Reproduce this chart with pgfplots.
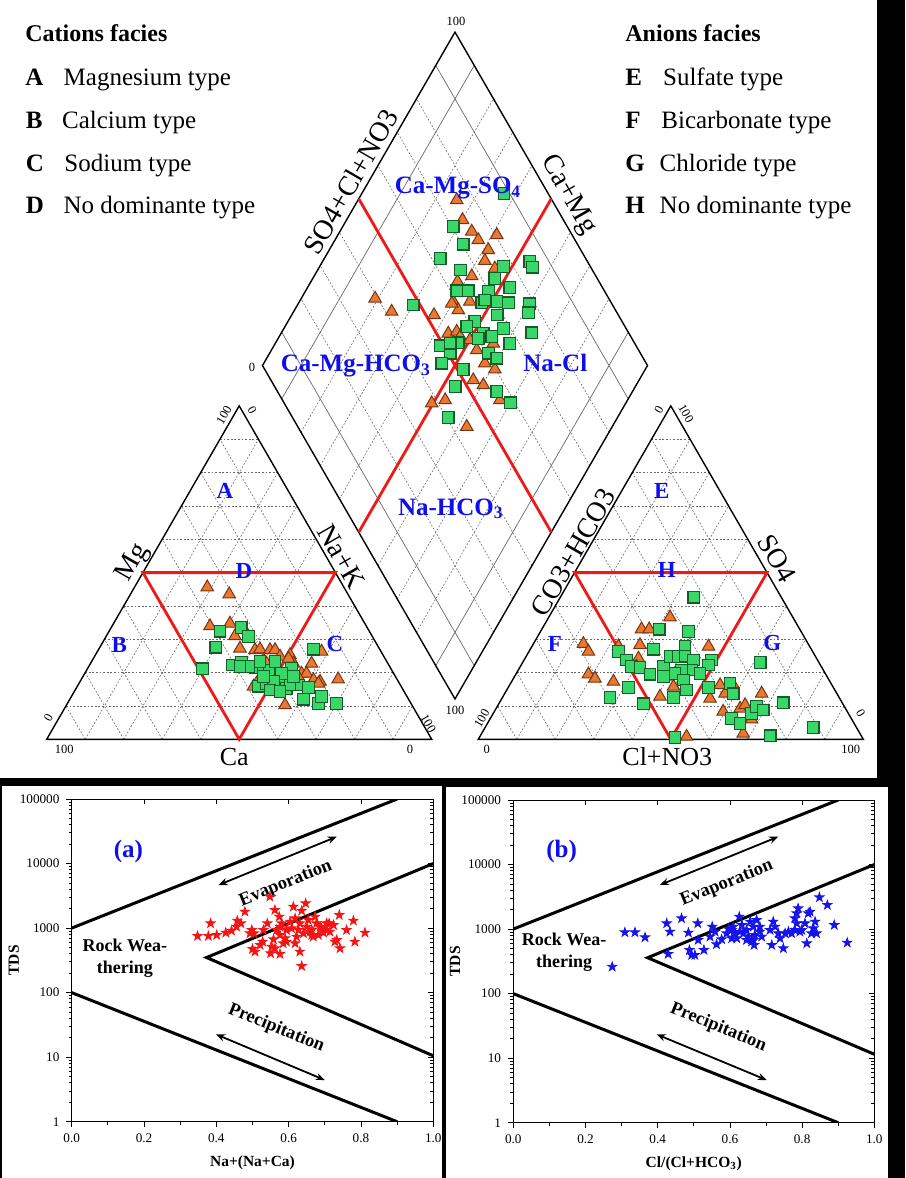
\documentclass[border=0pt]{standalone}
\usepackage{fontspec}
\setmainfont{Liberation Serif}
\usepackage{pgfplots}
\pgfplotsset{compat=1.18}
\usetikzlibrary{arrows.meta}

\definecolor{triorange}{RGB}{233,120,52}
\definecolor{triedge}{RGB}{120,52,14}
\definecolor{sqgreen}{RGB}{55,215,105}
\definecolor{sqedge}{RGB}{22,92,38}
\definecolor{facred}{RGB}{238,25,25}
\definecolor{facblue}{RGB}{15,15,235}
\definecolor{gridgray}{RGB}{105,105,105}
\definecolor{starred}{RGB}{245,20,20}
\definecolor{starblue}{RGB}{20,20,235}

% filled five-pointed star
\pgfdeclareplotmark{fstar}{%
  \pgfpathmoveto{\pgfpointpolar{90}{\pgfplotmarksize}}%
  \pgfpathlineto{\pgfpointpolar{126}{0.382\pgfplotmarksize}}%
  \pgfpathlineto{\pgfpointpolar{162}{\pgfplotmarksize}}%
  \pgfpathlineto{\pgfpointpolar{198}{0.382\pgfplotmarksize}}%
  \pgfpathlineto{\pgfpointpolar{234}{\pgfplotmarksize}}%
  \pgfpathlineto{\pgfpointpolar{270}{0.382\pgfplotmarksize}}%
  \pgfpathlineto{\pgfpointpolar{306}{\pgfplotmarksize}}%
  \pgfpathlineto{\pgfpointpolar{342}{0.382\pgfplotmarksize}}%
  \pgfpathlineto{\pgfpointpolar{18}{\pgfplotmarksize}}%
  \pgfpathlineto{\pgfpointpolar{54}{0.382\pgfplotmarksize}}%
  \pgfpathclose
  \pgfusepathqfillstroke
}

\pgfplotsset{
  groupone/.style={only marks, mark=triangle*, mark size=3.6pt,
    mark options={fill=triorange, draw=triedge, line width=0.5pt}},
  grouptwo/.style={only marks, mark=square*, mark size=2.9pt,
    mark options={fill=sqgreen, draw=sqedge, line width=0.6pt}},
  faciesline/.style={facred, line width=1.4pt, line join=miter},
  boundary/.style={black, line width=1.5pt, line join=miter},
  trend/.style={black, line width=0.9pt, {Stealth[length=4.5pt,width=3.6pt]}-{Stealth[length=4.5pt,width=3.6pt]}},
}
\tikzset{
  regiontext/.style={font=\bfseries\fontsize{9.2}{11}\selectfont, inner sep=0pt},
  tgrid/.style={gridgray, line width=0.3pt, dash pattern=on 0.9pt off 0.9pt},
  innertick/.style={black, line width=0.4pt},
}
% inward ticks on the top and right frame of a Gibbs panel
\newcommand{\mirrorticks}{%
  \pgfplotsinvokeforeach{0.2,0.4,0.6,0.8}{\draw[innertick] (axis cs:##1,100000) -- ++(0pt,-2.6pt);}%
  \pgfplotsinvokeforeach{10,100,1000,10000}{\draw[innertick] (axis cs:1,##1) -- ++(-2.6pt,0pt);}%
  \pgfplotsinvokeforeach{2,3,4,5,6,7,8,9,20,30,40,50,60,70,80,90,200,300,400,500,600,700,800,900,2000,3000,4000,5000,6000,7000,8000,9000,20000,30000,40000,50000,60000,70000,80000,90000}{\draw[innertick] (axis cs:1,##1) -- ++(-1.5pt,0pt);}%
}

\begin{document}
\begin{tikzpicture}
\useasboundingbox (0,0) rectangle (452.5pt,-589pt);

% ---------- panels and facies key (pixel grid) ----------
\begin{scope}[x=0.5pt,y=-0.5pt]
  \fill[black] (0,0) rectangle (905,1178);
  \fill[white] (0,0) rectangle (877,778);
  \fill[white] (2,786) rectangle (442,1178);
  \fill[white] (446,787) rectangle (888,1178);

  \begin{scope}[every node/.style={inner sep=0pt, anchor=base west}]
    \node[font=\bfseries\fontsize{12}{14}\selectfont] at (25,41.5) {Cations facies};
    \node[font=\bfseries\fontsize{12.5}{14}\selectfont] at (25,85) {A};
    \node[font=\fontsize{12.5}{14}\selectfont] at (63.3,85) {Magnesium type};
    \node[font=\bfseries\fontsize{12.5}{14}\selectfont] at (25.5,128.3) {B};
    \node[font=\fontsize{12.5}{14}\selectfont] at (61.7,128.3) {Calcium type};
    \node[font=\bfseries\fontsize{12.5}{14}\selectfont] at (25.5,171.7) {C};
    \node[font=\fontsize{12.5}{14}\selectfont] at (64,171.7) {Sodium type};
    \node[font=\bfseries\fontsize{12.5}{14}\selectfont] at (25.5,213.3) {D};
    \node[font=\fontsize{12.5}{14}\selectfont] at (63.3,213.3) {No dominante type};

    \node[font=\bfseries\fontsize{12}{14}\selectfont] at (625,41.5) {Anions facies};
    \node[font=\bfseries\fontsize{12.5}{14}\selectfont] at (625,85) {E};
    \node[font=\fontsize{12.5}{14}\selectfont] at (662.7,85) {Sulfate type};
    \node[font=\bfseries\fontsize{12.5}{14}\selectfont] at (625,128.3) {F};
    \node[font=\fontsize{12.5}{14}\selectfont] at (661,128.3) {Bicarbonate type};
    \node[font=\bfseries\fontsize{12.5}{14}\selectfont] at (625,171.7) {G};
    \node[font=\fontsize{12.5}{14}\selectfont] at (659.3,171.7) {Chloride type};
    \node[font=\bfseries\fontsize{12.5}{14}\selectfont] at (625,213.3) {H};
    \node[font=\fontsize{12.5}{14}\selectfont] at (659.3,213.3) {No dominante type};
  \end{scope}
\end{scope}

% ---------- Piper frames and grids (units: triangle side = 100) ----------
\begin{scope}[shift={(23.35pt,-369.65pt)}, x=1.925pt, y=1.925pt]
  \foreach \sx in {0,112.1} {
    \begin{scope}[xshift=\sx*1.925pt]
      \foreach \k in {1,...,9} {
        \draw[tgrid] ({5*\k},{8.66*\k}) -- ({100-5*\k},{8.66*\k});
        \draw[tgrid] ({10*\k},0) -- ({10*\k+0.5*(100-10*\k)},{0.866*(100-10*\k)});
        \draw[tgrid] ({10*\k},0) -- ({5*\k},{8.66*\k});
      }
      \draw[black, line width=0.7pt, line join=miter] (0,0) -- (100,0) -- (50,86.6) -- cycle;
    \end{scope}
  }
  \begin{scope}[shift={(106.05,10.48)}]
    \foreach \k in {2,...,8} {
      \draw[tgrid] ({-5*\k},{8.66*\k}) -- ({50-5*\k},{86.6+8.66*\k});
      \draw[tgrid] ({5*\k},{8.66*\k}) -- ({-50+5*\k},{86.6+8.66*\k});
    }
    \foreach \k in {1,9} {
      \draw[gridgray, line width=0.35pt] ({-5*\k},{8.66*\k}) -- ({50-5*\k},{86.6+8.66*\k});
      \draw[gridgray, line width=0.35pt] ({5*\k},{8.66*\k}) -- ({-50+5*\k},{86.6+8.66*\k});
    }
    \draw[black, line width=0.7pt, line join=miter] (0,0) -- (50,86.6) -- (0,173.2) -- (-50,86.6) -- cycle;
  \end{scope}
\end{scope}

% ---------- Piper sample points ----------
\begin{axis}[
  at={(23.35pt,-369.65pt)}, anchor=south west,
  x=1.925pt, y=1.925pt,
  xmin=0, xmax=212.1, ymin=0, ymax=183.7,
  hide axis, clip=false, enlargelimits=false,
]
% facies boundaries
\addplot[faciesline] coordinates {(25,43.3) (75,43.3) (50,0) (25,43.3) (75,43.3)};
\addplot[faciesline] coordinates {(137.1,43.3) (187.1,43.3) (162.1,0) (137.1,43.3) (187.1,43.3)};
\addplot[faciesline] coordinates {(81.05,140.4) (131.05,53.8)};
\addplot[faciesline] coordinates {(81.05,53.8) (131.05,140.4)};

% cation triangle
\addplot[groupone] coordinates {
 (41.7,39.5) (47.4,37.7) (42.4,29.4) (47.6,30.1) (48.9,26.8) (50.2,23.6)
 (54.1,23.2) (55.4,23.4) (58.0,23.2) (59.3,23.2) (63.2,21.9) (56.3,20.6)
 (68.8,19.7) (71.4,22.8) (75.7,15.6) (61.9,8.9) (66.2,17.1) (67.5,17.1)
 (71.0,15.0) (69.3,15.4) (65.8,15.4) (54.5,14.5) (53.7,13.7) (60.6,21.5)
 (57.1,19.7) (52.4,26.7) (64.1,19.7) (62.8,21.0) (70.6,14.5)};
\addplot[grouptwo] coordinates {
 (45.0,28.1) (50.5,29.0) (52.4,26.7) (43.9,23.9) (40.5,18.3) (48.3,19.3)
 (50.6,19.9) (54.1,18.7) (56.3,18.0) (57.8,18.0) (59.3,20.2) (63.6,18.4)
 (55.0,13.8) (57.1,14.5) (60.6,14.5) (62.2,13.2) (65.4,14.1) (68.0,13.5)
 (69.3,23.4) (66.7,10.4) (70.6,9.3) (71.4,11.1) (75.3,9.3) (55.4,20.2)
 (61.0,17.1) (63.2,14.1) (58.9,15.0) (56.3,16.3) (52.4,18.9) (50.2,18.9)
 (58.0,12.8) (60.6,12.4) (64.1,16.3)};

% anion triangle
\addplot[groupone] coordinates {
 (139.4,24.8) (140.7,22.8) (140.7,16.9) (142.4,15.8) (147.2,15.0) (154.5,28.6)
 (156.5,28.6) (154.1,24.5) (153.7,21.0) (161.9,31.7) (160.6,16.3) (159.3,11.1)
 (162.8,13.7) (171.9,24.1) (172.3,10.6) (174.9,14.1) (176.2,11.9) (175.7,7.2)
 (180.1,8.0) (181.4,8.9) (183.1,5.2) (180.9,1.5) (185.7,11.9) (166.2,0.7)
 (178.3,14.1) (153.2,18.9) (148.5,24.2)};
\addplot[grouptwo] coordinates {
 (168.1,36.9) (166.7,28.0) (159.1,28.6) (157.6,23.4) (148.5,22.8) (150.6,20.6)
 (151.9,18.9) (154.1,18.7) (156.7,16.9) (160.2,19.0) (161.9,21.5) (164.1,21.5)
 (165.8,24.1) (165.8,21.6) (168.0,20.6) (167.5,18.0) (164.9,18.0) (163.2,17.1)
 (165.4,15.4) (166.2,12.8) (172.7,20.6) (171.9,19.3) (171.9,13.5) (177.5,14.5)
 (178.3,11.8) (185.3,19.9) (146.3,10.9) (151.1,13.5) (155.0,9.2) (162.8,10.9)
 (163.2,0.5) (177.9,5.4) (180.1,4.1) (183.1,6.7) (184.4,8.5) (186.1,7.6)
 (191.3,9.5) (187.9,0.9) (199.1,3.1) (169.7,17.1) (160.2,16.3)};

% central diamond
\addplot[groupone] coordinates {
 (106.5,140.1) (108.0,134.9) (110.4,131.9) (112.1,129.7) (116.9,131.0) (114.7,127.1)
 (113.8,124.3) (116.4,122.3) (110.4,120.3) (106.7,118.9) (105.6,113.7) (106.9,111.5)
 (109.9,113.7) (85.3,114.5) (89.6,111.1) (100.6,110.2) (104.3,105.4) (106.5,105.9)
 (107.4,104.6) (111.7,101.1) (109.9,103.7) (113.8,97.7) (116.4,96.1) (110.8,93.3)
 (113.4,92.0) (103.5,88.1) (100.0,87.3) (109.1,81.2) (117.7,88.1) (116.0,102.8)
 (105.2,113.2)};
\addplot[grouptwo] coordinates {
 (118.8,141.8) (105.6,133.2) (108.2,128.6) (102.2,124.9) (107.5,121.9) (125.5,124.1)
 (126.2,122.6) (118.6,122.8) (116.4,119.7) (106.5,116.5) (109.5,116.5) (114.7,116.3)
 (120.3,117.4) (113.0,113.4) (116.9,113.7) (119.9,113.4) (125.4,113.1) (125.1,110.8)
 (117.0,110.2) (111.2,108.5) (109.1,107.2) (118.6,106.7) (113.4,105.4) (115.6,104.6)
 (120.3,102.8) (126.0,105.6) (95.2,112.8) (102.2,102.2) (106.9,103.0) (104.8,100.3)
 (102.6,97.7) (114.7,100.3) (116.9,99.0) (108.2,96.1) (106.1,91.6) (116.9,90.3)
 (120.5,87.4) (104.3,83.6) (112.1,104.1) (104.8,102.9) (113.8,114.1)};
\end{axis}

% ---------- Piper labels (pixel grid) ----------
\begin{scope}[x=0.5pt,y=-0.5pt]
  \begin{scope}[every node/.style={inner sep=0pt, font=\fontsize{14}{16}\selectfont}]
    \node[rotate=60] at (133.3,562.7) {Mg};
    \node[rotate=-60] at (341.7,556.7) {Na+K};
    \node[rotate=60] at (573.3,552.3) {CO3+HCO3};
    \node[rotate=-60] at (776.7,558.3) {SO4};
    \node[rotate=60] at (350.7,181.7) {SO4+Cl+NO3};
    \node[rotate=-60] at (568.3,195) {Ca+Mg};
  \end{scope}
  \node[inner sep=0pt, font=\fontsize{13}{15}\selectfont] at (234.3,756.7) {Ca};
  \node[inner sep=0pt, font=\fontsize{13}{15}\selectfont] at (667.3,756.7) {Cl+NO3};

  \begin{scope}[every node/.style={inner sep=0pt, font=\fontsize{6.25}{7}\selectfont}]
    \node at (64.3,749.3) {100};
    \node at (410,749.3) {0};
    \node[rotate=60] at (48.3,717.7) {0};
    \node[rotate=60] at (224,415) {100};
    \node[rotate=-60] at (252.3,410) {0};
    \node[rotate=-60] at (428.3,723.3) {100};
    \node at (486.7,749.3) {0};
    \node at (850.7,749.3) {100};
    \node[rotate=60] at (481.7,718.3) {100};
    \node[rotate=60] at (659,410) {0};
    \node[rotate=-60] at (686,413.3) {100};
    \node[rotate=-60] at (860.7,713.3) {0};
    \node at (456,21.5) {100};
    \node at (252,367) {0};
    \node at (455,710) {100};
  \end{scope}

  \begin{scope}[every node/.style={inner sep=0pt, anchor=base, text=facblue, font=\bfseries\fontsize{11.5}{13}\selectfont}]
    \node at (225,498.3) {A};
    \node at (119.3,652.7) {B};
    \node at (335,651.7) {C};
    \node at (244,578.3) {D};
    \node at (661.7,498.3) {E};
    \node at (555,651.7) {F};
    \node at (772.3,650.7) {G};
    \node at (666.7,577.3) {H};
  \end{scope}
  \begin{scope}[every node/.style={inner sep=0pt, anchor=base, text=facblue, font=\bfseries\fontsize{12.5}{14}\selectfont}]
    \node at (458,193.5) {Ca-Mg-SO\textsubscript{4}};
    \node at (355.8,371.7) {Ca-Mg-HCO\textsubscript{3}};
    \node at (555.3,371.7) {Na-Cl};
    \node at (450.8,515) {Na-HCO\textsubscript{3}};
  \end{scope}
\end{scope}

% ---------- Gibbs diagram (a): cations ----------
\begin{axis}[at={(35.85pt,-560.85pt)}, anchor=south west,
  scale only axis, width=180.8pt, height=161.35pt,
  xmin=0, xmax=1, ymode=log, ymin=1, ymax=100000,
  axis line style={line width=0.5pt},
  major tick length=2.6pt, minor tick length=1.5pt,
  xtick={0,0.2,0.4,0.6,0.8,1}, xticklabels={0.0,0.2,0.4,0.6,0.8,1.0},
  minor xtick={0.1,0.3,0.5,0.7,0.9},
  ytick={1,10,100,1000,10000,100000},
  yticklabels={1,10,100,1000,10000,100000},
  tick align=outside, xtick pos=left, ytick pos=left,
  tick style={black, line width=0.4pt},
  tick label style={font=\fontsize{6.6}{7.5}\selectfont},
  label style={font=\bfseries\fontsize{7.75}{9}\selectfont},
  xlabel={Na+(Na+Ca)}, ylabel={TDS},
  x label style={at={(axis description cs:0.5,-0.128)}, anchor=center},
  y label style={at={(axis description cs:-0.16,0.5)}, anchor=center},
]
\mirrorticks
\addplot[boundary] coordinates {(0,1000) (0.9,100000)};
\addplot[boundary] coordinates {(1,10000) (0.373,350) (1,10.5)};
\addplot[boundary] coordinates {(0,100) (0.9,1)};
\addplot[trend] coordinates {(0.406,4645) (0.733,26070)};
\addplot[trend] coordinates {(0.399,22.6) (0.700,4.42)};
\addplot[only marks, mark=fstar, mark size=2.4pt, color=starred] coordinates {
 (0.348,754) (0.378,754) (0.401,781) (0.384,1184) (0.426,849) (0.442,912)
 (0.458,1303) (0.456,1051) (0.468,1184) (0.479,1795) (0.498,933) (0.504,829)
 (0.500,474) (0.528,615) (0.541,1184) (0.548,3067) (0.562,1905) (0.558,669)
 (0.576,781) (0.574,1502) (0.581,1184) (0.585,580) (0.576,397) (0.550,406)
 (0.553,515) (0.562,485) (0.594,933) (0.604,1257) (0.613,2146) (0.618,580)
 (0.622,736) (0.631,431) (0.636,258) (0.636,1861) (0.647,2417) (0.650,1051)
 (0.654,1334) (0.664,933) (0.668,736) (0.673,1502) (0.677,1184) (0.687,1051)
 (0.696,849) (0.705,933) (0.712,1184) (0.714,880) (0.724,1116) (0.728,615)
 (0.740,1594) (0.742,485) (0.760,933) (0.779,1303) (0.783,615) (0.811,849)
 (0.733,653) (0.530,933) (0.521,547) (0.567,933) (0.590,693) (0.608,990)
 (0.627,933) (0.641,829) (0.659,880) (0.682,781) (0.691,990) (0.618,1415)
 (0.507,431) (0.493,829) (0.576,1051) (0.594,615) (0.631,1184) (0.705,1184)
 (0.664,781)};
\node[text=facblue, font=\bfseries\fontsize{12.5}{14}\selectfont] at (axis cs:0.157,15280) {(a)};
\node[regiontext, rotate=22] at (axis cs:0.592,4900) {Evaporation};
\node[regiontext, rotate=-22] at (axis cs:0.566,27.9) {Precipitation};
\node[regiontext, align=center, font=\bfseries\fontsize{9}{11}\selectfont] at (axis cs:0.147,340) {Rock Wea-\\thering};
\end{axis}

% ---------- Gibbs diagram (b): anions ----------
\begin{axis}[at={(256.65pt,-561.35pt)}, anchor=south west,
  scale only axis, width=180.5pt, height=161.35pt,
  xmin=0, xmax=1, ymode=log, ymin=1, ymax=100000,
  axis line style={line width=0.5pt},
  major tick length=2.6pt, minor tick length=1.5pt,
  xtick={0,0.2,0.4,0.6,0.8,1}, xticklabels={0.0,0.2,0.4,0.6,0.8,1.0},
  minor xtick={0.1,0.3,0.5,0.7,0.9},
  ytick={1,10,100,1000,10000,100000},
  yticklabels={1,10,100,1000,10000,100000},
  tick align=outside, xtick pos=left, ytick pos=left,
  tick style={black, line width=0.4pt},
  tick label style={font=\fontsize{6.6}{7.5}\selectfont},
  label style={font=\bfseries\fontsize{7.75}{9}\selectfont},
  xlabel={Cl/(Cl+HCO\textsubscript{3})}, ylabel={TDS},
  x label style={at={(axis description cs:0.5,-0.128)}, anchor=center},
  y label style={at={(axis description cs:-0.161,0.5)}, anchor=center},
]
\mirrorticks
\addplot[boundary] coordinates {(0,1000) (0.9,100000)};
\addplot[boundary] coordinates {(1,10000) (0.372,360) (1,11.5)};
\addplot[boundary] coordinates {(0,100) (0.9,1)};
\addplot[trend] coordinates {(0.406,4820) (0.734,27000)};
\addplot[trend] coordinates {(0.397,23.4) (0.702,4.58)};
\addplot[only marks, mark=fstar, mark size=2.4pt, color=starblue] coordinates {
 (0.274,261) (0.309,890) (0.337,890) (0.365,745) (0.425,1227) (0.434,911)
 (0.429,411) (0.466,1467) (0.485,880) (0.488,474) (0.494,396) (0.503,396)
 (0.511,1227) (0.512,677) (0.528,474) (0.545,763) (0.551,1089) (0.563,580)
 (0.577,693) (0.596,1002) (0.605,968) (0.609,1089) (0.614,859) (0.619,718)
 (0.626,1556) (0.633,1156) (0.637,859) (0.646,968) (0.651,763) (0.656,1303)
 (0.660,638) (0.665,1089) (0.667,566) (0.669,809) (0.674,1381) (0.683,1089)
 (0.688,763) (0.711,968) (0.716,566) (0.720,1303) (0.725,1089) (0.734,859)
 (0.739,718) (0.748,503) (0.753,859) (0.762,911) (0.771,859) (0.780,968)
 (0.780,1467) (0.785,1754) (0.789,2094) (0.794,911) (0.799,968) (0.808,1227)
 (0.813,601) (0.817,1754) (0.822,1861) (0.826,859) (0.831,1026) (0.836,1303)
 (0.840,859) (0.848,3104) (0.870,2361) (0.889,1156) (0.925,615) (0.646,677)
 (0.628,911) (0.591,859) (0.605,718) (0.559,911) (0.785,1227) (0.683,911)
 (0.665,677)};
\node[text=facblue, font=\bfseries\fontsize{12.5}{14}\selectfont] at (axis cs:0.134,15820) {(b)};
\node[regiontext, rotate=22] at (axis cs:0.591,5115) {Evaporation};
\node[regiontext, rotate=-22] at (axis cs:0.568,29.7) {Precipitation};
\node[regiontext, align=center, font=\bfseries\fontsize{9}{11}\selectfont] at (axis cs:0.141,436) {Rock Wea-\\thering};
\end{axis}
\end{tikzpicture}
\end{document}
